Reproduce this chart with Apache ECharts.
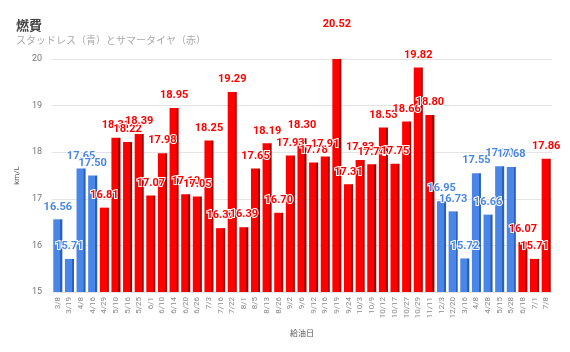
<!DOCTYPE html>
<html lang="ja">
<head>
    <meta charset="UTF-8">
    <title>燃費</title>
    <script src="https://cdn.jsdelivr.net/npm/echarts@6.0.0/dist/echarts.min.js"></script>
    <style>
        html, body { margin: 0; padding: 0; background: #fff; }
    </style>
</head>
<body>
<div id="chart" style="width: 570px;height:352px;"></div>

<script>
    // 給油日
    var dates = ['3/8', '3/19', '4/8', '4/16', '4/29', '5/10', '5/16', '5/25', '6/1', '6/10',
        '6/14', '6/20', '6/26', '7/3', '7/16', '7/22', '8/1', '8/5', '8/13', '8/26',
        '9/2', '9/6', '9/12', '9/16', '9/19', '9/24', '10/3', '10/9', '10/12', '10/17',
        '10/27', '10/29', '11/11', '12/3', '12/20', '3/16', '4/8', '4/28', '5/15', '5/28',
        '6/18', '7/1', '7/8'];

    // km/L
    var mileage = [16.56, 15.71, 17.65, 17.50, 16.81, 18.31, 18.22, 18.39, 17.07, 17.98,
        18.95, 17.10, 17.05, 18.25, 16.37, 19.29, 16.39, 17.65, 18.19, 16.70,
        17.93, 18.30, 17.78, 17.91, 20.52, 17.31, 17.83, 17.74, 18.53, 17.75,
        18.66, 19.82, 18.80, 16.95, 16.73, 15.72, 17.55, 16.66, 17.70, 17.68,
        16.07, 15.71, 17.86];

    // S = スタッドレス（青）, N = サマータイヤ（赤）
    var tire = ['S', 'S', 'S', 'S', 'N', 'N', 'N', 'N', 'N', 'N',
        'N', 'N', 'N', 'N', 'N', 'N', 'N', 'N', 'N', 'N',
        'N', 'N', 'N', 'N', 'N', 'N', 'N', 'N', 'N', 'N',
        'N', 'N', 'N', 'S', 'S', 'S', 'S', 'S', 'S', 'S',
        'N', 'N', 'N'];

    var yTicks = [15, 20, 1];

    var colors = {
        S: { face: '#4a86e8', side: '#2b5fb8' },
        N: { face: '#ff0000', side: '#a30000' }
    };

    function barFill(c) {
        return {
            type: 'linear', x: 0, y: 0, x2: 1, y2: 0,
            colorStops: [
                { offset: 0, color: c.face },
                { offset: 0.76, color: c.face },
                { offset: 0.78, color: c.side },
                { offset: 1, color: c.side }
            ]
        };
    }

    var barData = mileage.map(function (v, i) {
        var c = colors[tire[i]];
        var item = {
            value: v,
            itemStyle: { color: barFill(c) },
            label: { color: c.face }
        };
        if (v > yTicks[1]) {
            item.label.offset = [0, -22];
        }
        return item;
    });

    var chart = echarts.init(document.getElementById('chart'));
    chart.setOption({
        animation: false,
        title: {
            text: '燃費',
            subtext: 'スタッドレス（青）とサマータイヤ（赤）',
            left: 11,
            top: 14,
            itemGap: 3,
            textStyle: { fontSize: 13, fontWeight: 'bold', color: '#444', fontFamily: 'Noto Sans CJK JP' },
            subtextStyle: { fontSize: 10, color: '#aaa', fontFamily: 'Noto Sans CJK JP' }
        },
        grid: { left: 52, right: 18, top: 59, bottom: 60 },
        xAxis: {
            type: 'category',
            data: dates,
            name: '給油日',
            nameLocation: 'middle',
            nameGap: 37,
            nameTextStyle: { fontSize: 8, color: '#555', fontFamily: 'Noto Sans CJK JP' },
            axisLine: { show: false },
            axisTick: { show: false },
            axisLabel: { interval: 0, rotate: 90, fontSize: 8, color: '#888', margin: 5, fontFamily: 'Roboto' }
        },
        yAxis: {
            type: 'value',
            min: yTicks[0],
            max: yTicks[1],
            interval: yTicks[2],
            name: 'km/L',
            nameLocation: 'middle',
            nameGap: 28,
            nameTextStyle: { fontSize: 8, color: '#555', fontFamily: 'Roboto' },
            axisLabel: { fontSize: 9, color: '#777', margin: 10, fontFamily: 'Roboto' },
            splitLine: { lineStyle: { color: '#e4e4e4' } }
        },
        series: [{
            type: 'bar',
            data: barData,
            barCategoryGap: '22%',
            clip: true,
            label: {
                show: true,
                position: 'top',
                distance: 7,
                fontSize: 11,
                fontWeight: 'bold',
                fontFamily: 'Roboto',
                textBorderColor: '#fff',
                textBorderWidth: 2,
                formatter: function (p) { return p.value.toFixed(2); }
            }
        }]
    });
</script>
</body>
</html>
